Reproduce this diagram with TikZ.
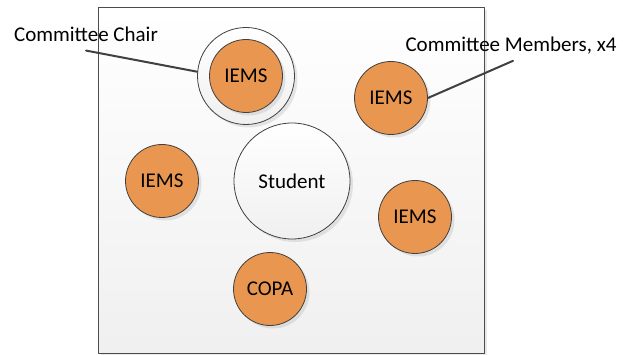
\documentclass[tikz,border=0pt]{standalone}
\usepackage{fontspec}
\setmainfont{Carlito}
\usetikzlibrary{shadows}
\begin{document}
\begin{tikzpicture}[x=1pt, y=-1pt, line cap=round, line join=round,
  txt/.style={font=\fontsize{21}{25}\selectfont, inner sep=0pt},
  soft/.style={drop shadow={opacity=0.18, shadow xshift=3pt, shadow yshift=-3pt}},
  member/.style={circle, draw=black!75, line width=0.8pt, fill=iemsorange, minimum size=73pt, inner sep=0pt, soft, txt},
  whitering/.style={circle, draw=black!75, line width=0.8pt, top color=white, bottom color=black!6, inner sep=0pt, soft, txt},
  leader/.style={draw=black!75, line width=2pt}]
  \definecolor{iemsorange}{RGB}{233,150,80}
  \useasboundingbox (0,0) rectangle (623,355);
  % committee frame
  \path[draw=black!70, line width=0.8pt, top color=white, bottom color=black!6, soft] (98,7) rectangle (484,353);
  % circles
  \node[whitering, minimum size=97pt] (chairout) at (246,76) {};
  \node[member] (chair) at (246,76) {IEMS};
  \node[member] (mem1) at (391,98) {IEMS};
  \node[member] (mem2) at (162,181) {IEMS};
  \node[member] (mem3) at (415,217) {IEMS};
  \node[member] (copa) at (270,289) {COPA};
  \node[whitering, minimum size=116pt] (student) at (292,181) {Student};
  % labels
  \node[txt] (chairlbl) at (86,34) {Committee Chair};
  \node[txt] (memlbl) at (511,46) {Committee Members, x4};
  \draw[leader] ([yshift=-9pt]chairlbl.south) -- (chairout.175);
  \draw[leader] ([xshift=2pt,yshift=-6pt]memlbl.south) -- (mem1.east);
\end{tikzpicture}
\end{document}
